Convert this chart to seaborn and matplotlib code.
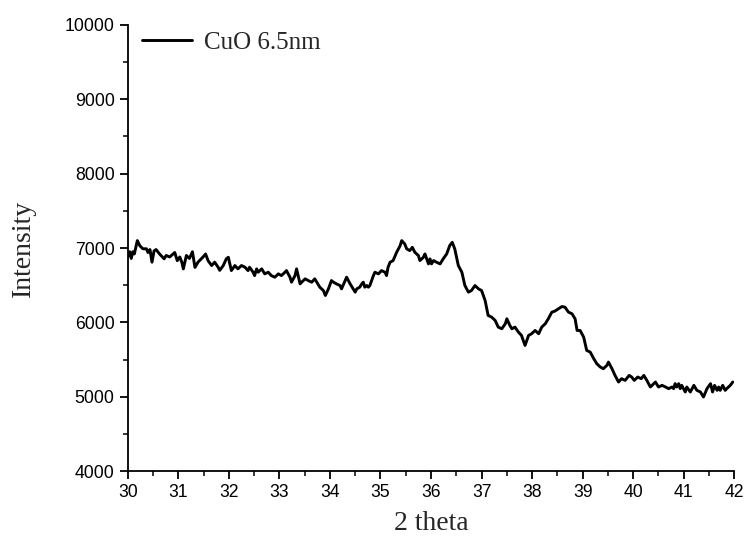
import numpy as np
import pandas as pd
import matplotlib
matplotlib.use('Agg')
import matplotlib.pyplot as plt
import seaborn as sns
from matplotlib.ticker import MultipleLocator

# 2 theta positions
two_theta = [
    30.00, 30.04, 30.07, 30.10, 30.13, 30.19, 30.24, 30.30, 30.37, 30.40,
    30.44, 30.48, 30.52, 30.56, 30.63, 30.72, 30.76, 30.83, 30.93, 30.98,
    31.03, 31.07, 31.10, 31.16, 31.22, 31.28, 31.33, 31.39, 31.49, 31.54,
    31.59, 31.66, 31.72, 31.79, 31.82, 31.89, 31.95, 31.99, 32.05, 32.12,
    32.18, 32.25, 32.32, 32.38, 32.41, 32.48, 32.51, 32.55, 32.58, 32.65,
    32.71, 32.78, 32.84, 32.91, 32.98, 33.04, 33.11, 33.14, 33.21, 33.24,
    33.31, 33.34, 33.41, 33.44, 33.51, 33.57, 33.64, 33.70, 33.74, 33.80,
    33.87, 33.91, 33.97, 34.03, 34.07, 34.13, 34.20, 34.23, 34.30, 34.33,
    34.40, 34.46, 34.50, 34.53, 34.59, 34.63, 34.66, 34.69, 34.73, 34.76,
    34.79, 34.86, 34.89, 34.96, 35.02, 35.09, 35.12, 35.15, 35.19, 35.25,
    35.32, 35.39, 35.42, 35.48, 35.52, 35.58, 35.63, 35.68, 35.75, 35.78,
    35.85, 35.88, 35.95, 35.98, 36.01, 36.05, 36.11, 36.18, 36.24, 36.31,
    36.37, 36.42, 36.47, 36.54, 36.61, 36.67, 36.74, 36.80, 36.87, 36.94,
    37.00, 37.07, 37.13, 37.20, 37.27, 37.33, 37.40, 37.47, 37.50, 37.56,
    37.60, 37.66, 37.73, 37.79, 37.86, 37.93, 37.99, 38.06, 38.13, 38.19,
    38.26, 38.32, 38.39, 38.45, 38.52, 38.59, 38.65, 38.72, 38.79, 38.85,
    38.89, 38.95, 39.02, 39.08, 39.15, 39.22, 39.28, 39.35, 39.41, 39.48,
    39.51, 39.58, 39.64, 39.71, 39.77, 39.84, 39.92, 39.97, 40.02, 40.09,
    40.16, 40.21, 40.27, 40.34, 40.44, 40.50, 40.57, 40.64, 40.70, 40.77,
    40.80, 40.83, 40.86, 40.90, 40.93, 40.96, 41.03, 41.06, 41.13, 41.20,
    41.26, 41.33, 41.39, 41.46, 41.53, 41.57, 41.61, 41.66, 41.69, 41.72,
    41.77, 41.82, 41.85, 41.92, 41.97,
]

# intensity values at those positions
intensity = [
    6880, 6950, 6860, 6950, 6920, 7100, 7030, 6990, 6990, 6940,
    6980, 6810, 6960, 6980, 6920, 6855, 6900, 6880, 6940, 6830,
    6880, 6810, 6720, 6900, 6860, 6950, 6740, 6810, 6880, 6920,
    6830, 6765, 6810, 6740, 6700, 6765, 6855, 6876, 6697, 6765,
    6720, 6765, 6742, 6697, 6742, 6675, 6630, 6720, 6675, 6720,
    6653, 6675, 6630, 6608, 6653, 6630, 6675, 6697, 6608, 6541,
    6630, 6720, 6518, 6541, 6586, 6563, 6541, 6586, 6541, 6474,
    6429, 6362, 6451, 6563, 6541, 6518, 6496, 6451, 6563, 6608,
    6518, 6451, 6407, 6451, 6474, 6518, 6541, 6474, 6496, 6474,
    6496, 6630, 6675, 6653, 6697, 6675, 6630, 6742, 6809, 6832,
    6943, 7033, 7100, 7055, 6988, 6966, 7010, 6943, 6899, 6832,
    6876, 6921, 6787, 6854, 6787, 6832, 6809, 6787, 6854, 6921,
    7033, 7077, 6988, 6765, 6675, 6496, 6407, 6429, 6496, 6451,
    6429, 6295, 6094, 6071, 6026, 5937, 5915, 5982, 6049, 5959,
    5915, 5937, 5870, 5825, 5691, 5825, 5848, 5892, 5848, 5937,
    5982, 6049, 6138, 6152, 6183, 6214, 6205, 6138, 6116, 6049,
    5892, 5892, 5802, 5624, 5601, 5512, 5445, 5400, 5378, 5423,
    5467, 5378, 5288, 5199, 5244, 5221, 5288, 5266, 5221, 5266,
    5244, 5288, 5221, 5132, 5199, 5132, 5154, 5132, 5110, 5132,
    5110, 5177, 5132, 5177, 5110, 5154, 5065, 5132, 5065, 5154,
    5087, 5065, 4997, 5110, 5177, 5065, 5154, 5087, 5132, 5087,
    5154, 5087, 5110, 5154, 5199,
]

df = pd.DataFrame({'two_theta': two_theta, 'intensity': intensity})

sns.set_style('ticks')
plt.rcParams['font.family'] = ['Liberation Sans', 'DejaVu Sans']

fig = plt.figure(figsize=(7.47, 5.41), dpi=100)
ax = fig.add_axes([0.171, 0.129, 0.812, 0.825])

sns.lineplot(data=df, x='two_theta', y='intensity', ax=ax, color='black',
             linewidth=2.1, label='CuO 6.5nm', sort=False)

ax.set_xlim(30, 42)
ax.set_ylim(4000, 10000)
ax.xaxis.set_major_locator(MultipleLocator(1))
ax.xaxis.set_minor_locator(MultipleLocator(0.5))
ax.yaxis.set_major_locator(MultipleLocator(1000))
ax.yaxis.set_minor_locator(MultipleLocator(500))

sns.despine(ax=ax)
for side in ['left', 'bottom']:
    ax.spines[side].set_linewidth(1.3)
    ax.spines[side].set_color('black')
ax.tick_params(which='major', direction='out', length=6, width=1.3,
               labelsize=12.7, colors='black')
ax.tick_params(which='minor', direction='out', length=3.5, width=1.3)

serif_family = ['Liberation Serif', 'DejaVu Serif']
ax.set_xlabel('2 theta', fontdict={'family': serif_family, 'size': 20},
              labelpad=7)
ax.set_ylabel('Intensity', fontdict={'family': serif_family, 'size': 20},
              labelpad=21)

ax.legend(loc='upper left', bbox_to_anchor=(-0.008, 1.027), frameon=False,
          handlelength=2.0, handletextpad=0.5, borderaxespad=0.35,
          prop={'family': serif_family, 'size': 18})

fig.savefig('out.png', dpi=100)
